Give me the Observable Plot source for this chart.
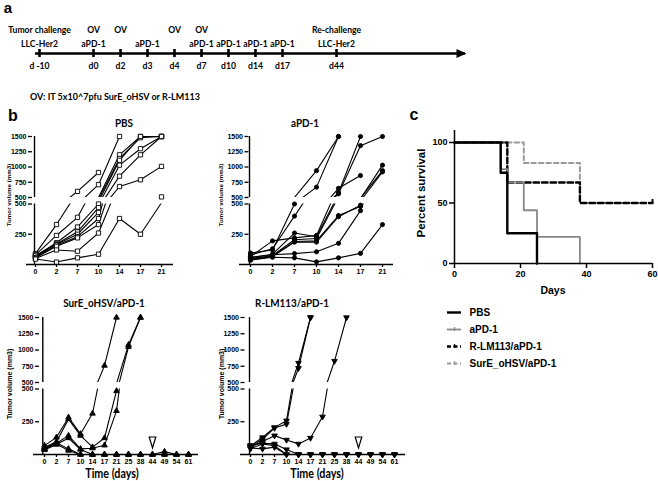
<!DOCTYPE html>
<html><head><meta charset="utf-8">
<script src="https://cdn.jsdelivr.net/npm/d3@7"></script>
<script src="https://cdn.jsdelivr.net/npm/@observablehq/plot@0.6"></script>
<style>
body{margin:0;background:#fff;}
#root{position:relative;width:658px;height:481px;overflow:hidden;background:#fff;}
#root svg{position:absolute;left:0;top:0;}
.lab{position:absolute;white-space:nowrap;transform:translate(-50%,-50%);color:#000;line-height:1;}
.rot{transform:translate(-50%,-50%) rotate(-90deg);}
.cond{transform:translate(-50%,-50%) scaleX(0.86);}
.cal{font-family:Lato,"Open Sans",sans-serif;font-weight:bold;}
.ari{font-family:"Liberation Sans",Arial,sans-serif;font-weight:bold;}
</style></head>
<body><div id="root"></div>
<script>
// ---------------- data ----------------
const timelineEvents = ["d -10","d0","d2","d3","d4","d7","d10","d14","d17","d44"];
const timelineTop = ["Tumor challenge","OV","OV","","OV","OV","","","","Re-challenge"];
const timelineMid = ["LLC-Her2","aPD-1","","aPD-1","","aPD-1","aPD-1","aPD-1","aPD-1","LLC-Her2"];
const timelineSlots = ["d -10","gap1","d0","d2","d3","d4","d7","d10","d14","d17","gap2","d44"];

const earlyDays = ["0","2","7","10","14","17","21"];
const lateDays = ["0","2","7","10","14","17","21","25","38","44","49","54","61"];
const rechallengeDay = ["44"];
const upperTicks = [500,750,1000,1250,1500];
const lowerTicks = [250,500];

const pbsVolumes = [
  [90,330,600,910,null,null,null],
  [80,240,390,710,1500,null,null],
  [70,180,310,500,1200,1500,1500],
  [65,170,270,470,1140,1480,1500],
  [75,165,250,430,1110,1500,1500],
  [60,160,230,380,1030,1300,1500],
  [55,150,220,330,850,1200,1500],
  [50,120,110,260,680,790,1010],
  [45,20,55,85,380,250,510]
];
const apd1Volumes = [
  [95,120,500,940,1500,null,null],
  [80,130,400,670,1500,null,null],
  [65,195,220,240,650,860,null],
  [55,85,260,230,580,1500,null],
  [45,75,205,215,560,1350,1500],
  [50,70,190,195,405,480,1030],
  [40,65,185,185,395,490,940],
  [60,80,90,105,175,445,920],
  [35,60,55,22,55,92,330]
];
const sureVolumes = [
  [68,131,283,157,313,760,1500],
  [56,98,270,144,56,126,485,1080,1500],
  [43,86,144,43,48,70,333,1050,1500],
  [35,76,126,38,0,0,0,0,0,0,22,0,0],
  [50,90,43,0,0,0,0,0,0,0,0,0,0],
  [40,80,30,0,0,0,0,0,0,0,0,0,0]
];
const rlmVolumes = [
  [65,130,207,258,800,1500],
  [60,115,202,232,720,1500],
  [55,100,144,111,81,126,288,830,1500],
  [70,85,81,38,0,0,0,0,0,0,0,0,0],
  [45,80,68,0,0,0,0,0,0,0,0,0,0],
  [50,43,56,0,0,0,0,0,0,0,0,0,0]
];

const survivalGroups = ["PBS","aPD-1","R-LM113/aPD-1","SurE_oHSV/aPD-1"];
const survivalDays = [[0,14,16,25],[0,14,16,21,25,38],[0,16,38,60],[0,21,38,60]];
const survivalPct = [[100,75,25,0],[100,78,67,44,22,0],[100,67,50,50],[100,83,50,50]];
const survivalTicksX = [0,20,40,60];
const survivalTicksY = [0,50,100];

// ---------------- helpers ----------------
const W = 658, H = 481;
const root = document.getElementById("root");
const F = (l, r, t, b) => ({width: W, height: H, marginLeft: l, marginRight: W - r, marginTop: t, marginBottom: H - b});
const st = (size, fam) => ({background: "transparent", overflow: "visible", fontFamily: fam || "'Liberation Sans', Arial, sans-serif", fontSize: size + "px", fontWeight: "bold", color: "black"});
const plain = d => String(d);
function add(svg){ root.appendChild(svg); }
function label(text, x, y, size, cls, rot){
  const d = document.createElement("div");
  d.className = "lab " + cls + (rot ? " " + rot : "");
  d.style.left = x + "px"; d.style.top = y + "px"; d.style.fontSize = size + "px";
  d.textContent = text; root.appendChild(d);
}
const triDown = {draw(ctx, size){ const y = -Math.sqrt(size / (Math.sqrt(3) * 3)); ctx.moveTo(0, -2 * y); ctx.lineTo(-Math.sqrt(3) * y, y); ctx.lineTo(Math.sqrt(3) * y, y); ctx.closePath(); }};
const openTri = {draw(ctx){ ctx.moveTo(-3.3, -5.5); ctx.lineTo(3.3, -5.5); ctx.lineTo(0, 5.5); ctx.closePath(); }};
const arrowHead = {draw(ctx){ ctx.moveTo(1, 0); ctx.lineTo(-9, -4.5); ctx.lineTo(-9, 4.5); ctx.closePath(); }};
const censor = {draw(ctx){ ctx.moveTo(0, 0); ctx.lineTo(0, -4); }};

// ---------------- panel a: timeline ----------------
const tlFont = "Lato, 'Open Sans', sans-serif";
add(Plot.plot({
  ...F(35, 465, 49, 57), style: st(8.6, tlFont),
  x: {type: "point", domain: timelineSlots, padding: 0, insetRight: 125, axis: null},
  y: {domain: [0, 1], axis: null},
  marks: [
    Plot.ruleY([0.5], {strokeWidth: 2.6}),
    Plot.tickX(timelineEvents, {x: d => d, strokeWidth: 2.6}),
    Plot.dot([0.5], {y: d => d, frameAnchor: "right", symbol: arrowHead, fill: "black", stroke: null}),
    Plot.text(timelineEvents, {x: d => d, y: () => 0.5, text: (d, i) => timelineTop[i], dy: -23, lineAnchor: "middle"}),
    Plot.text(timelineEvents, {x: d => d, y: () => 0.5, text: (d, i) => timelineMid[i], dy: -9, lineAnchor: "middle"}),
    Plot.text(timelineEvents, {x: d => d, y: () => 0.5, text: d => d, dy: 13, lineAnchor: "middle"})
  ]
}));
label("a", 8, 7, 15, "ari");
const ovNote = document.createElement("div");
ovNote.className = "cal"; ovNote.style.cssText = "position:absolute;left:30px;top:92px;font-size:9px;white-space:nowrap;line-height:1;";
ovNote.textContent = "OV: IT 5x10^7pfu SurE_oHSV or R-LM113"; root.appendChild(ovNote);

// ---------------- panel b: tumor growth ----------------
function tumorPanel(p){
  const rows = p.lines.flatMap((vals, id) => vals.map((v, i) => ({id, day: p.days[i], v})).filter(d => d.v != null));
  const xs = {type: "point", domain: p.days, padding: 0, insetLeft: p.first - p.axisX, insetRight: p.right - p.last};
  const sym = {symbol: p.symbol, r: p.r, fill: p.fill, stroke: "black", strokeWidth: 0.9};
  const lineOpts = {x: "day", y: "v", z: "id", stroke: "black", strokeWidth: 1.1, clip: true};
  add(Plot.plot({
    ...F(p.axisX, p.right, p.upper[0], p.upper[1]), style: st(7),
    x: {...xs, axis: null},
    y: {domain: [500, 1500]},
    marks: [
      Plot.line(rows, lineOpts),
      Plot.dot(rows.filter(d => d.v > 500), {x: "day", y: "v", ...sym}),
      Plot.ruleX([p.days[0]], {dx: p.axisX - p.first, strokeWidth: 1.4}),
      Plot.axisY({ticks: upperTicks, tickFormat: plain, tickSize: 4, tickPadding: 2, strokeWidth: 1.3, label: null})
    ]
  }));
  const lowerMarks = [
    Plot.line(rows, lineOpts),
    Plot.ruleY([0], {strokeWidth: 1.5, insetLeft: p.left - p.axisX}),
    Plot.ruleX([p.days[0]], {dx: p.axisX - p.first, strokeWidth: 1.4}),
    Plot.dot(rows.filter(d => d.v <= 500), {x: "day", y: "v", ...sym}),
    Plot.axisY({ticks: lowerTicks, tickFormat: plain, tickSize: 4, tickPadding: 2, strokeWidth: 1.3, label: null}),
    Plot.axisX({tickSize: 3, tickPadding: 2, strokeWidth: 1.3, label: null})
  ];
  if (p.rechallenge) lowerMarks.push(Plot.dot(rechallengeDay, {x: d => d, frameAnchor: "bottom", dy: -12, symbol: openTri, fill: "white", stroke: "black", strokeWidth: 1.2}));
  add(Plot.plot({
    ...F(p.axisX, p.right, p.lower[0], p.lower[1]), style: st(7),
    x: xs,
    y: {domain: [0, 500]},
    marks: lowerMarks
  }));
}

tumorPanel({lines: pbsVolumes, days: earlyDays, symbol: "square", r: 2.4, fill: "white",
  axisX: 32, first: 33, last: 163, left: 26, right: 173, upper: [136, 197], lower: [203.5, 264]});
tumorPanel({lines: apd1Volumes, days: earlyDays, symbol: "circle", r: 2.1, fill: "black",
  axisX: 248.5, first: 249.5, last: 381.5, left: 239, right: 393, upper: [136, 197], lower: [203.5, 264]});
tumorPanel({lines: sureVolumes, days: lateDays, symbol: "triangle", r: 2.1, fill: "black", rechallenge: true,
  axisX: 39, first: 40.7, last: 192, left: 33, right: 198, upper: [317, 382], lower: [388.5, 454]});
tumorPanel({lines: rlmVolumes, days: lateDays, symbol: triDown, r: 2.1, fill: "black", rechallenge: true,
  axisX: 244.5, first: 245.5, last: 399, left: 240, right: 405, upper: [317, 382], lower: [388.5, 454]});

label("b", 13, 116, 16, "ari");
label("PBS", 124, 123, 11.5, "cal", "cond");
label("aPD-1", 305, 123, 11.5, "cal", "cond");
label("SurE_oHSV/aPD-1", 104, 303, 11.5, "cal", "cond");
label("R-LM113/aPD-1", 292, 303, 11.5, "cal", "cond");
label("Tumor volume (mm3)", 9, 195, 6.2, "ari", "rot");
label("Tumor volume (mm3)", 221, 195, 6.2, "ari", "rot");
label("Tumor volume (mm3)", 9, 384, 7, "ari", "rot");
label("Tumor volume (mm3)", 221, 384, 7, "ari", "rot");
label("Time (days)", 112, 474, 12.5, "cal", "cond");
label("Time (days)", 317, 474, 12.5, "cal", "cond");

// ---------------- panel c: survival ----------------
const survStyles = [
  {stroke: "#000", strokeWidth: 2.4},
  {stroke: "#888", strokeWidth: 1.8},
  {stroke: "#000", strokeWidth: 2.4, strokeDasharray: "5.5,3"},
  {stroke: "#9a9a9a", strokeWidth: 2, strokeDasharray: "4.5,3"}
];
const survRows = survivalGroups.map((g, gi) => survivalDays[gi].map((t, i) => ({g, t, s: survivalPct[gi][i]})));
const lastRows = [2, 3].map(gi => survRows[gi][survRows[gi].length - 1]);
add(Plot.plot({
  ...F(454, 652, 130, 263), style: st(9),
  x: {domain: [0, 60]},
  y: {domain: [0, 100], insetTop: 12},
  marks: [
    ...[3, 2, 1, 0].map(gi => Plot.line(survRows[gi], {x: "t", y: "s", curve: "step-after", ...survStyles[gi]})),
    Plot.dot(lastRows, {x: "t", y: "s", symbol: censor, stroke: "black", strokeWidth: 1.5}),
    Plot.ruleX([0], {strokeWidth: 1.5}),
    Plot.ruleY([0], {strokeWidth: 1.5}),
    Plot.axisY({ticks: survivalTicksY, tickSize: 5, tickPadding: 2, strokeWidth: 1.5, label: null}),
    Plot.axisX({ticks: survivalTicksX, tickSize: 5, tickPadding: 2, strokeWidth: 1.5, label: null})
  ]
}));
label("c", 414, 115, 16, "ari");
label("Percent survival", 422, 193, 11.5, "ari", "rot");
label("Days", 553, 290, 10.5, "ari");

// legend
add(Plot.plot({
  ...F(447, 461, 311, 363), style: st(10),
  x: {domain: [0, 1], axis: null},
  y: {type: "point", domain: survivalGroups, padding: 0, axis: null},
  marks: [
    ...survivalGroups.map((g, gi) => Plot.ruleY([g], {y: d => d, ...survStyles[gi], strokeDasharray: gi >= 2 ? "4,2.5" : null})),
    Plot.dot(survivalGroups.slice(1), {y: d => d, frameAnchor: "middle", symbol: censor, dy: 1.5, stroke: (d) => d, strokeWidth: 1.3}),
    Plot.text(survivalGroups, {y: d => d, frameAnchor: "right", dx: 8, textAnchor: "start", text: d => d})
  ],
  color: {type: "ordinal", domain: survivalGroups.slice(1), range: ["#888", "#000", "#9a9a9a"]}
}));
</script>
</body></html>
